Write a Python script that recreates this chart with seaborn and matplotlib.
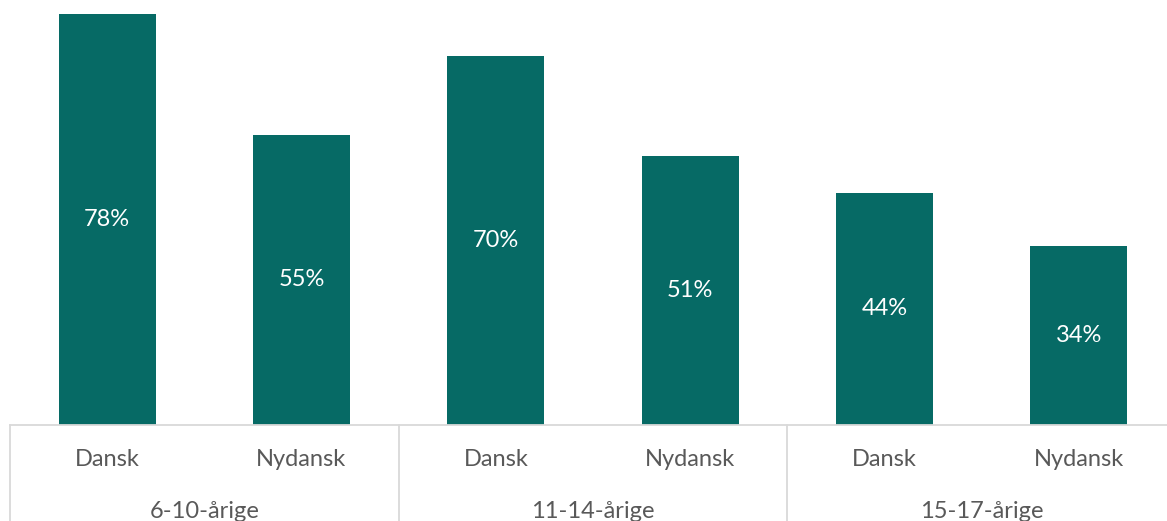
import numpy as np
import pandas as pd
import seaborn as sns
import matplotlib
matplotlib.use("Agg")
import matplotlib.pyplot as plt

# data
groups = ["6-10-årige", "11-14-årige", "15-17-årige"]
sprog = ["Dansk", "Nydansk"]
andel = [78, 55, 70, 51, 44, 34]

bar_color = "#066A65"
line_color = "#D9D9D9"
text_color = "#595959"

df = pd.DataFrame({
    "group": np.repeat(groups, len(sprog)),
    "sprog": sprog * len(groups),
    "andel": andel,
})
df["pos"] = np.arange(len(df))

sns.set_theme(style="white")
plt.rcParams["font.family"] = ["Lato", "DejaVu Sans"]

W, H = 1167, 521
fig = plt.figure(figsize=(W / 100, H / 100), dpi=100)
# axes spans a bit past the right edge, like the cropped reference
left_px, right_px, base_px = 10, 1176, 425
ax = fig.add_axes([left_px / W, (H - base_px) / H, (right_px - left_px) / W, base_px / H])

sns.barplot(data=df, x="pos", y="andel", color=bar_color, width=0.5,
            saturation=1, ax=ax, linewidth=0)

ax.set_xlim(-0.5, len(df) - 0.5)
ax.set_ylim(0, 80.6)

for p, v in zip(ax.patches, df["andel"]):
    ax.text(p.get_x() + p.get_width() / 2, v / 2, f"{v}%", ha="center", va="center",
            color="white", fontsize=17)

ax.set_xticks([])
ax.set_yticks([])
ax.set_xlabel("")
ax.set_ylabel("")
for s in ["top", "left", "right"]:
    ax.spines[s].set_visible(False)
ax.spines["bottom"].set_color(line_color)
ax.spines["bottom"].set_linewidth(1.3)

trans = ax.get_xaxis_transform()
n = len(sprog)
for b in np.arange(len(groups) + 1) * n - 0.5:
    ax.plot([b, b], [0, -0.3], transform=trans, color=line_color, lw=1.3, clip_on=False)

for pos, s in zip(df["pos"], df["sprog"]):
    ax.annotate(s, xy=(pos, 0), xycoords=trans, xytext=(0, -25.2), textcoords="offset points",
                ha="center", va="center", color=text_color, fontsize=17)

for i, g in enumerate(groups):
    ax.annotate(g, xy=(i * n + (n - 1) / 2, 0), xycoords=trans, xytext=(0, -62.6),
                textcoords="offset points", ha="center", va="center",
                color=text_color, fontsize=17)

fig.savefig("out.png", dpi=100)
